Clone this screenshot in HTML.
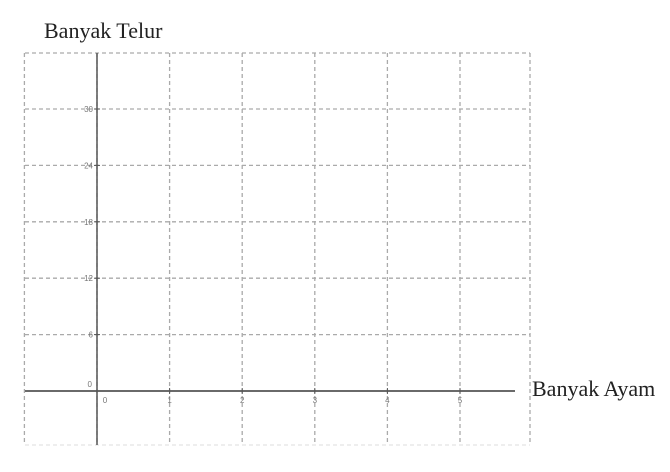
<!DOCTYPE html>
<html><head><meta charset="utf-8"><style>
body{margin:0;background:#fff;width:670px;height:467px;overflow:hidden}
</style></head><body>
<svg width="670" height="467" xmlns="http://www.w3.org/2000/svg" font-family="Liberation Sans, sans-serif">
<g id="grid"></g>
<g id="axes"></g>
<text x="44" y="38" font-family="Liberation Serif, serif" font-size="22" fill="#222">Banyak Telur</text>
<text x="532" y="396" font-family="Liberation Serif, serif" font-size="22" fill="#222">Banyak Ayam</text>
</svg>
<script>
const xTicks=[0,1,2,3,4,5];
const yTicks=[0,6,12,18,24,30];
const ns='http://www.w3.org/2000/svg';
const x0=97,xs=72.6,y0=391,ys=56.4/6;
const X=v=>x0+v*xs, Y=v=>y0-v*ys;
const pLeft=25,pRight=530,pTop=53,pBottom=445;
const g=document.getElementById('grid'),a=document.getElementById('axes');
function ln(p,x1,y1,x2,y2,st,w,d,name){const l=document.createElementNS(ns,'line');
l.setAttribute('x1',x1);l.setAttribute('y1',y1);l.setAttribute('x2',x2);l.setAttribute('y2',y2);
l.setAttribute('stroke',st);l.setAttribute('stroke-width',w);if(d)l.setAttribute('stroke-dasharray',d);


p.appendChild(l);}
function tx(p,x,y,s,anchor,name){const t=document.createElementNS(ns,'text');t.setAttribute('x',x);t.setAttribute('y',y);
t.setAttribute('font-size','8');t.setAttribute('fill','#777');t.setAttribute('text-anchor',anchor);t.textContent=s;


p.appendChild(t);}
const gx=[-1].concat(xTicks).concat([6]);
gx.forEach(v=>{const x=Math.min(X(v),pRight);ln(g,x,pTop,x,pBottom,'#aaa',1.3,'4,3','grid-line-x');});
ln(g,pLeft,pTop,pRight,pTop,'#aaa',1.3,'4,3','grid-line-top');
ln(g,pLeft,pBottom,pRight,pBottom,'#e4e4e4',1.3,'4,3','grid-line-bottom');
yTicks.forEach(v=>{if(v>0)ln(g,pLeft,Y(v),pRight,Y(v),'#aaa',1.3,'4,3','grid-line-y');});
ln(a,pLeft,y0,515,y0,'#555',1.8,null,'x-axis');
ln(a,x0,pTop,x0,pBottom,'#555',1.5,null,'y-axis');
yTicks.forEach(v=>{if(v>0){ln(a,x0-3,Y(v),x0+3,Y(v),'#555',1,null,'y-tick');tx(a,x0-4,Y(v)+3,v,'end','y-tick-label');}});
tx(a,x0-5,Y(0)-4,'0','end','y-tick-label');
xTicks.forEach(v=>{ln(a,X(v),y0-3,X(v),y0+3,'#555',1,null,'x-tick');tx(a,X(v)+(v==0?8:0),y0+12,v,'middle','x-tick-label');});
</script>
</body></html>
